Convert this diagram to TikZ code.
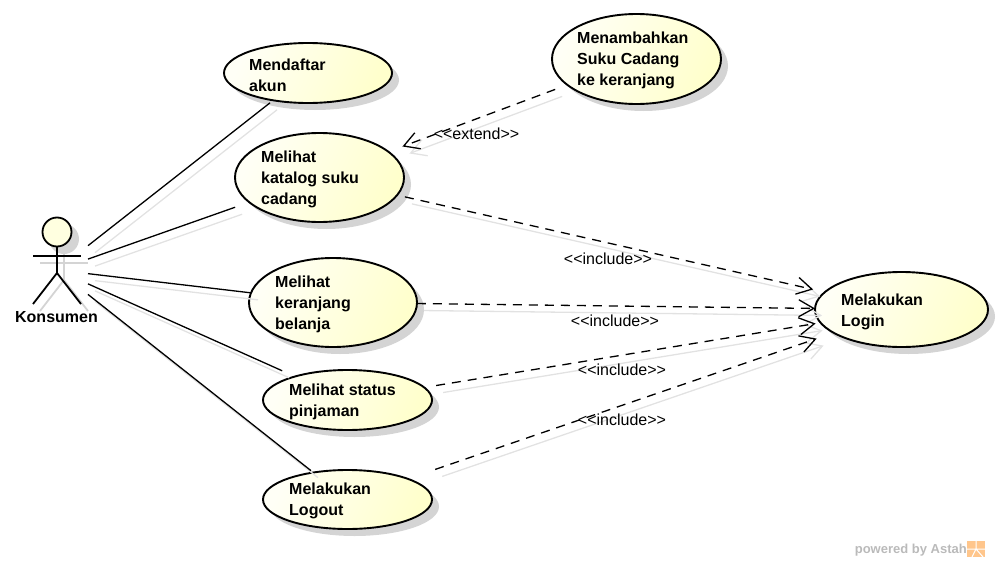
\documentclass[tikz,border=0pt]{standalone}
\usepackage{fontspec}
\setmainfont{Liberation Sans}
\usetikzlibrary{%
  arrows.meta,shapes.geometric,shadows}
\definecolor{ucpale}{HTML}{FFFFF6}
\definecolor{ucyellow}{HTML}{FFFFCC}
\definecolor{shadowgray}{HTML}{D4D4D4}
\definecolor{shadowlight}{HTML}{E2E2E2}
\tikzset {>={Straight Barb[length=15pt,width=17pt]}}
\tikzset{
  usecase/.style={ellipse,draw,line width=1.9pt,inner sep=0pt,outer sep=0pt,
    left color=ucpale,right color=ucyellow,shading angle=65,
    general shadow={fill=shadowgray,shadow xshift=7pt,shadow yshift=-7pt}},
  uctext/.style={anchor=west,align=left,inner sep=0pt,
    font=\fontsize{16}{21}\selectfont\bfseries},
  steptext/.style={inner sep=0pt,font=\fontsize{16}{20}\selectfont},
  assoc/.style={line width=1.3pt},
  dep/.style={->,line width=1.3pt,dash pattern=on 9pt off 7pt},
  shadowline/.style={draw=shadowlight,line width=1.3pt,
    transform canvas={shift={(7pt,-7pt)}}},
}

\begin{document}
\begin{tikzpicture}[x=1pt,y=-1pt]
\useasboundingbox (0,0) rectangle (1001,562);
% use cases
\node[usecase,minimum width=168pt,minimum height=60pt] (mendaftar) at (308,73) {};
\node[usecase,minimum width=169pt,minimum height=89pt] (katalog) at (319.5,177.5) {};
\node[usecase,minimum width=168pt,minimum height=89pt] (keranjang) at (333,302.5) {};
\node[usecase,minimum width=169pt,minimum height=60pt] (status) at (347.5,400) {};
\node[usecase,minimum width=169pt,minimum height=59pt] (logout) at (347.5,499.5) {};
\node[usecase,minimum width=169pt,minimum height=90pt] (menambah) at (636.5,59) {};
\node[usecase,minimum width=173pt,minimum height=75pt] (login) at (901.5,309.5) {};
\node[uctext] (tmendaftar) at (249,75) {Mendaftar\\akun};
\node[uctext] (tkatalog) at (261,179.5) {Melihat\\katalog suku\\cadang};
\node[uctext] (tkeranjang) at (275,304.5) {Melihat\\keranjang\\belanja};
\node[uctext] (tstatus) at (289,401.5) {Melihat status\\pinjaman};
\node[uctext] (tlogout) at (289,501) {Melakukan\\Logout};
\node[uctext] (tmenambah) at (577,60.5) {Menambahkan\\Suku Cadang\\ke keranjang};
\node[uctext] (tlogin) at (841,311.5) {Melakukan\\Login};
% actor
\begin{scope}[shift={(7,7)},draw=shadowgray,line width=1.8pt]
\fill[shadowgray] (57,232) circle (15);
\draw (57,246) -- (57,273);
\draw (33,256) -- (81,256);
\draw (33,304) -- (57,273) -- (81,304);
\end{scope}
\draw[line width=1.8pt,fill=ucyellow!60] (57,232) circle (14.5);
\draw[line width=1.8pt] (57,246) -- (57,273);
\draw[line width=1.8pt] (33,256) -- (81,256);
\draw[line width=1.8pt] (33,304) -- (57,273) -- (81,304);
\node[inner sep=0pt,outer sep=0pt,minimum width=62pt,minimum height=60pt] (konsumen) at (57,270) {};
\node[uctext,anchor=center] (tkonsumen) at (56.5,317) {Konsumen};
% associations
\draw[shadowline,shorten >=4pt] (konsumen) -- (mendaftar);
\draw[shadowline,shorten >=15pt] (konsumen) -- (katalog);
\draw[shadowline] (konsumen) -- (keranjang);
\draw[shadowline,shorten >=14pt] (konsumen) -- (status);
\draw[shadowline,shorten >=3pt] (konsumen) -- (logout);
\draw[assoc,shorten >=4pt] (konsumen) -- (mendaftar);
\draw[assoc,shorten >=15pt] (konsumen) -- (katalog);
\draw[assoc] (konsumen) -- (keranjang);
\draw[assoc,shorten >=14pt] (konsumen) -- (status);
\draw[assoc,shorten >=3pt] (konsumen) -- (logout);
% extend and include
\draw[shadowline,->,shorten <=13pt,shorten >=15pt] (menambah) -- (katalog);
\draw[shadowline,->,shorten <=8pt,shorten >=12pt] (katalog) -- (login);
\draw[shadowline,->] (keranjang) -- (login);
\draw[shadowline,->,shorten <=12pt,shorten >=5pt] (status) -- (login);
\draw[shadowline,->,shorten <=29pt,shorten >=18pt] (logout) -- (login);
\draw[dep,shorten <=13pt,shorten >=15pt] (menambah) -- (katalog);
\draw[dep,shorten <=8pt,shorten >=12pt] (katalog) -- (login);
\draw[dep] (keranjang) -- (login);
\draw[dep,shorten <=12pt,shorten >=5pt] (status) -- (login);
\draw[dep,shorten <=29pt,shorten >=18pt] (logout) -- (login);
\node[steptext] (lextend) at (476.5,134) {<{}<extend>{}>};
\node[steptext] (linc1) at (608,259) {<{}<include>{}>};
\node[steptext] (linc2) at (615,321) {<{}<include>{}>};
\node[steptext] (linc3) at (622,370) {<{}<include>{}>};
\node[steptext] (linc4) at (622,420) {<{}<include>{}>};
% watermark
\node[inner sep=0pt,anchor=east,text=black!27,font=\fontsize{13}{16}\selectfont\bfseries] (wmark) at (967,550) {powered by Astah};
\fill[orange!45] (967,541) rectangle (985,557);
\draw[white,line width=1pt] (967,549) -- (985,549) (976,541) -- (976,549) (972,557) -- (976,549) -- (983,557);
\end{tikzpicture}
\end{document}
